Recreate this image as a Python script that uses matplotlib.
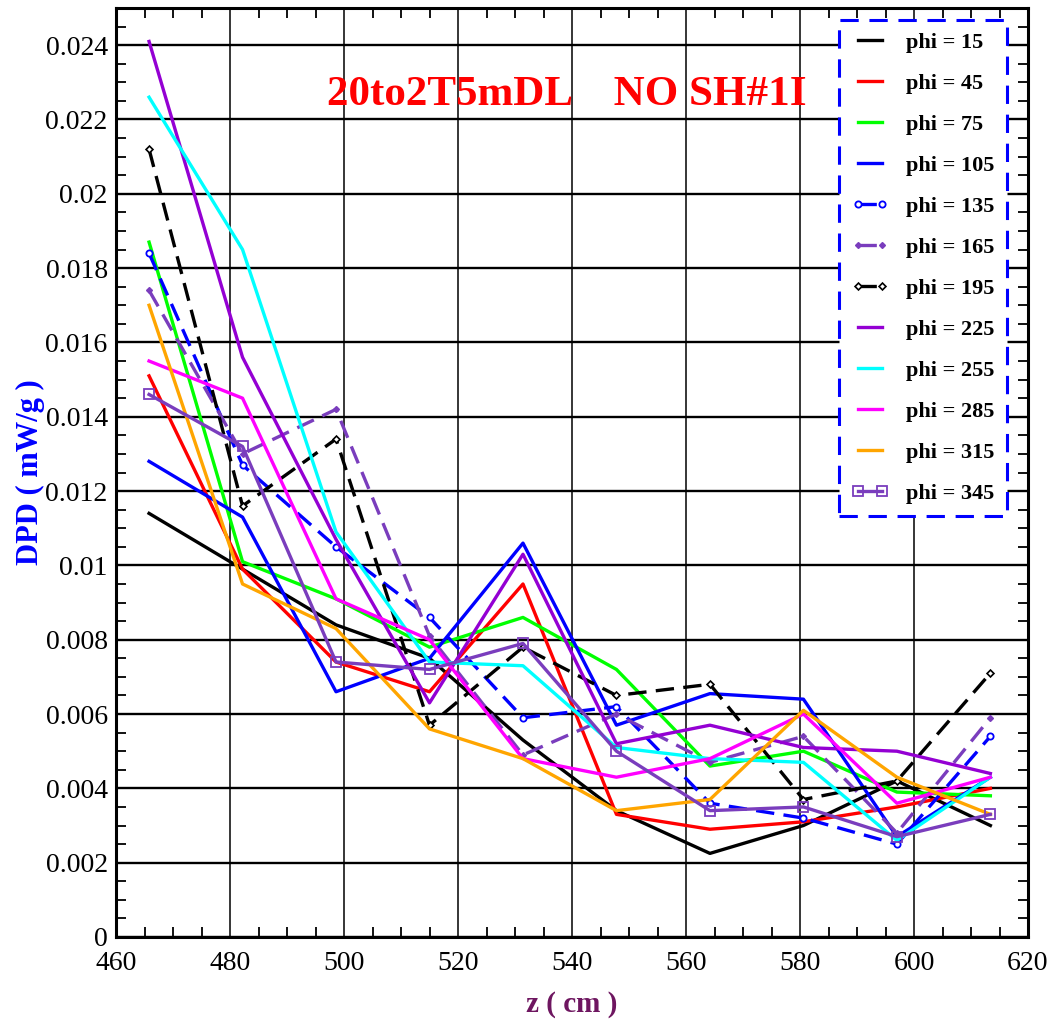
import matplotlib
matplotlib.use("Agg")
import matplotlib.pyplot as plt
from matplotlib.ticker import MultipleLocator, FixedLocator, FixedFormatter

# ---------------- data ----------------
z_cm = [465.8, 482.2, 498.6, 515.0, 531.4, 547.8, 564.2, 580.6, 597.0, 613.4]

phi15  = [0.0114, 0.0099, 0.0084, 0.0075, 0.0053, 0.0034, 0.00225, 0.0030, 0.0042, 0.0030]
phi45  = [0.0151, 0.0099, 0.0074, 0.0066, 0.0095, 0.0033, 0.0029, 0.0031, 0.0035, 0.0040]
phi75  = [0.0187, 0.0101, 0.0091, 0.0078, 0.0086, 0.0072, 0.0046, 0.0050, 0.0039, 0.0038]
phi105 = [0.0128, 0.0113, 0.0066, 0.0075, 0.0106, 0.0057, 0.00655, 0.0064, 0.0027, 0.0043]
phi135 = [0.0184, 0.0127, 0.0105, 0.0086, 0.0059, 0.0062, 0.0036, 0.0032, 0.0025, 0.0054]
phi165 = [0.0174, 0.0130, 0.0142, 0.0081, 0.0049, 0.0060, 0.0047, 0.0054, 0.0028, 0.0059]
phi195 = [0.0212, 0.0116, 0.0134, 0.0057, 0.0078, 0.0065, 0.0068, 0.0037, 0.0042, 0.0071]
phi225 = [0.0241, 0.0156, 0.0107, 0.0063, 0.0103, 0.0052, 0.0057, 0.0051, 0.0050, 0.0044]
phi255 = [0.0226, 0.0185, 0.0109, 0.0074, 0.0073, 0.0051, 0.0048, 0.0047, 0.0026, 0.0043]
phi285 = [0.0155, 0.0145, 0.0091, 0.0080, 0.0048, 0.0043, 0.0048, 0.0060, 0.0036, 0.0043]
phi315 = [0.0170, 0.0095, 0.0083, 0.0056, 0.0048, 0.0034, 0.0037, 0.0061, 0.0043, 0.0033]
phi345 = [0.0146, 0.0132, 0.0074, 0.0072, 0.0079, 0.0050, 0.0034, 0.0035, 0.0027, 0.0033]

series_labels = ["phi = 15", "phi = 45", "phi = 75", "phi = 105", "phi = 135", "phi = 165",
                 "phi = 195", "phi = 225", "phi = 255", "phi = 285", "phi = 315", "phi = 345"]
series_values = [phi15, phi45, phi75, phi105, phi135, phi165,
                 phi195, phi225, phi255, phi285, phi315, phi345]

xtick_vals = [460, 480, 500, 520, 540, 560, 580, 600, 620]
xtick_labels = ["460", "480", "500", "520", "540", "560", "580", "600", "620"]
ytick_vals = [0, 0.002, 0.004, 0.006, 0.008, 0.010, 0.012, 0.014, 0.016, 0.018, 0.020, 0.022, 0.024]
ytick_labels = ["0", "0.002", "0.004", "0.006", "0.008", "0.01", "0.012", "0.014", "0.016",
                "0.018", "0.02", "0.022", "0.024"]

title_text = "20to2T5mDL    NO SH#1I"
x_label = "z ( cm )"
y_label = "DPD ( mW/g )"

# ---------------- styles ----------------
DASH = (5.5, 2.8)
styles = [
    dict(color="black"),
    dict(color="#ff0000"),
    dict(color="#00ff00"),
    dict(color="#0000ff"),
    dict(color="#0000ff", dashes=DASH, marker="o", ms=4.5, mfc="white", mew=1.3),
    dict(color="#7a3dbd", dashes=DASH, marker="D", ms=3, mew=1.0),
    dict(color="black", dashes=DASH, marker="D", ms=3.5, mfc="white", mew=1.2),
    dict(color="#9400d3"),
    dict(color="#00ffff"),
    dict(color="#ff00ff"),
    dict(color="#ffa500"),
    dict(color="#7a3dbd", marker="s", ms=7, mfc="none", mew=1.3),
]

plt.rcParams["font.family"] = ["Liberation Serif", "DejaVu Serif"]

fig = plt.figure(figsize=(10.53, 10.23), dpi=100)
ax = fig.add_axes([116 / 1053, 1 - 937 / 1023, (1028 - 116) / 1053, (937 - 8) / 1023])

for lab, vals, st in zip(series_labels, series_values, styles):
    ax.plot(z_cm, vals, label=lab, lw=2.4, **st)

ax.set_xlim(460, 620)
ax.set_ylim(0, 0.025)

ax.xaxis.set_major_locator(FixedLocator(xtick_vals))
ax.xaxis.set_major_formatter(FixedFormatter(xtick_labels))
ax.yaxis.set_major_locator(FixedLocator(ytick_vals))
ax.yaxis.set_major_formatter(FixedFormatter(ytick_labels))
ax.xaxis.set_minor_locator(MultipleLocator(5))
ax.yaxis.set_minor_locator(MultipleLocator(0.0005))

ax.xaxis.grid(True, which="major", color="black", lw=1.1)
ax.yaxis.grid(True, which="major", color="black", lw=1.7)
ax.set_axisbelow(True)
ax.tick_params(which="both", direction="in", top=True, right=True, width=1.3)
ax.tick_params(which="major", length=0, labelsize=20)
ax.tick_params(axis="x", which="major", pad=10)
ax.tick_params(axis="y", which="major", pad=6)
ax.tick_params(which="minor", length=7)
for sp in ax.spines.values():
    sp.set_linewidth(2.2)

ax.text(497, 0.0224, title_text, color="#ff0000", fontsize=31, fontweight="bold",
        ha="left", va="baseline")

ax.set_xlabel(x_label, fontsize=21, fontweight="bold", color="#6e1660", labelpad=11)
ax.set_ylabel(y_label, fontsize=22, fontweight="bold", color="#0000ff", labelpad=0)

leg = ax.legend(loc="upper right", bbox_to_anchor=((1007 - 116) / 912, (937 - 20) / 929),
                borderaxespad=0, fancybox=False, numpoints=2, handlelength=1.67,
                handletextpad=0.8, borderpad=0.55, labelspacing=0.92,
                prop=dict(family="Liberation Serif", weight="bold", size=16),
                framealpha=1)
fr = leg.get_frame()
fr.set_edgecolor("#0000ff")
fr.set_linewidth(2.2)
fr.set_linestyle((0, (6, 3.5)))

fig.savefig("out.png", dpi=100)
